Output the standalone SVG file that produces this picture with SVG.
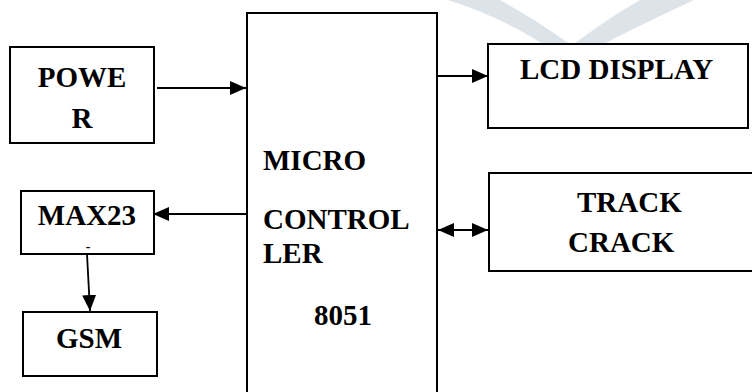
<svg xmlns="http://www.w3.org/2000/svg" width="752" height="392" viewBox="0 0 752 392">
<style>
.box{fill:#fff;stroke:#000;stroke-width:2}
text{font-family:'Liberation Serif','Times New Roman',serif;font-weight:bold;font-size:29px;fill:#000}
.c{text-anchor:middle}
.ln{stroke:#000;stroke-width:1.8;fill:none}
.wm{fill:#dde4e9}
</style>
<defs>
<marker id="ah" markerWidth="16" markerHeight="14" refX="16" refY="7" orient="auto" markerUnits="userSpaceOnUse">
<path d="M0,0 L16,7 L0,14 Z" fill="#000"/>
</marker>
<marker id="as" markerWidth="16" markerHeight="14" refX="0" refY="7" orient="auto" markerUnits="userSpaceOnUse">
<path d="M16,0 L0,7 L16,14 Z" fill="#000"/>
</marker>
</defs>
<rect width="752" height="392" fill="#fff"/>
<g id="watermark">
<path class="wm" d="M448,0 L500,0 Q540,22 578,50 L552,50 Q505,18 448,0 Z"/>
<path class="wm" d="M640,0 L694,0 Q640,25 592,50 L566,50 Q605,20 640,0 Z"/>
</g>
<g id="connectors">
<line class="ln" x1="157" y1="88" x2="246" y2="88" marker-end="url(#ah)"/>
<line class="ln" x1="246" y1="214" x2="153" y2="214" marker-end="url(#ah)"/>
<line class="ln" x1="87" y1="254" x2="90" y2="311" marker-end="url(#ah)"/>
<line class="ln" x1="438" y1="76" x2="488" y2="76" marker-end="url(#ah)"/>
<line class="ln" x1="438" y1="230" x2="488" y2="230" marker-start="url(#as)" marker-end="url(#ah)"/>
</g>
<g id="power">
<rect class="box" x="10" y="47" width="144" height="96"/>
<text class="c" x="82" y="87">POWE</text>
<text class="c" x="82" y="128">R</text>
</g>
<g id="max232">
<rect class="box" x="21" y="191" width="133" height="63"/>
<text class="c" x="87" y="225">MAX23</text>
<text class="c" x="88" y="251" style="font-size:14px">-</text>
</g>
<g id="gsm">
<rect class="box" x="23" y="312" width="134" height="64"/>
<text class="c" x="89" y="348">GSM</text>
</g>
<g id="mcu">
<rect class="box" x="247" y="13" width="190" height="400"/>
<text x="263" y="170">MICRO</text>
<text x="263" y="229">CONTROL</text>
<text x="263" y="263">LER</text>
<text x="314" y="325">8051</text>
</g>
<g id="lcd">
<rect class="box" x="488" y="44" width="260" height="84"/>
<text x="520" y="79">LCD DISPLAY</text>
</g>
<g id="track">
<rect class="box" x="489" y="173" width="270" height="98"/>
<text x="577" y="212">TRACK</text>
<text x="568" y="252">CRACK</text>
</g>
</svg>
